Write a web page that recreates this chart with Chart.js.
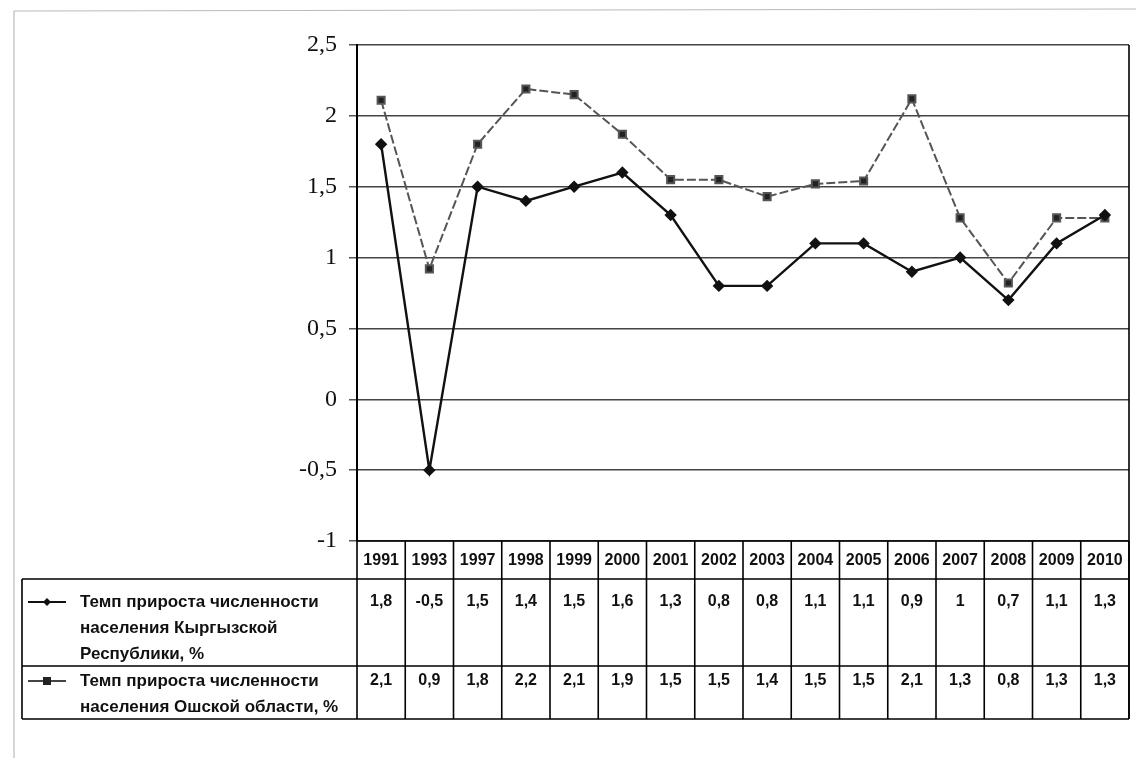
<!DOCTYPE html>
<html>
<head>
<meta charset="utf-8">
<script src="https://cdn.jsdelivr.net/npm/chart.js@4.4.1/dist/chart.umd.min.js"></script>
<style>
  html, body { margin: 0; padding: 0; background: #fff; }
  #wrap { width: 1136px; height: 758px; position: relative; }
</style>
</head>
<body>
<div id="wrap"><canvas id="c" width="1136" height="758"></canvas></div>
<script>
// ---- data ----
const years = ['1991','1993','1997','1998','1999','2000','2001','2002','2003','2004','2005','2006','2007','2008','2009','2010'];
const kyrgyzValues = [1.8, -0.5, 1.5, 1.4, 1.5, 1.6, 1.3, 0.8, 0.8, 1.1, 1.1, 0.9, 1.0, 0.7, 1.1, 1.3];
const oshValues = [2.11, 0.92, 1.8, 2.19, 2.15, 1.87, 1.55, 1.55, 1.43, 1.52, 1.54, 2.12, 1.28, 0.82, 1.28, 1.28];
const kyrgyzTable = ['1,8','-0,5','1,5','1,4','1,5','1,6','1,3','0,8','0,8','1,1','1,1','0,9','1','0,7','1,1','1,3'];
const oshTable = ['2,1','0,9','1,8','2,2','2,1','1,9','1,5','1,5','1,4','1,5','1,5','2,1','1,3','0,8','1,3','1,3'];
const kyrgyzLabel = ['Темп прироста численности', 'населения Кыргызской', 'Республики, %'];
const oshLabel = ['Темп прироста численности', 'населения Ошской области, %'];
const yMin = -1, yMax = 2.5, yStep = 0.5;

// table geometry (styles)
const T = { labelLeft: 22, headTop: 541, row1Top: 579, row2Top: 666, bottom: 719,
            row1Text: 602, row2Text: 681, lineGap: 26 };

const tablePlugin = {
  id: 'table',
  beforeDraw(chart) {
    const ctx = chart.ctx;
    ctx.save();
    ctx.fillStyle = '#fff';
    ctx.fillRect(0, 0, chart.width, chart.height);
    ctx.strokeStyle = '#bbb';
    ctx.lineWidth = 1.2;
    ctx.beginPath();
    ctx.moveTo(14, 758); ctx.lineTo(14, 11); ctx.lineTo(1136, 9);
    ctx.stroke();
    ctx.restore();
  },
  afterDraw(chart) {
    const ctx = chart.ctx;
    const x = chart.scales.x, ca = chart.chartArea;
    const n = years.length;
    const colW = (ca.right - ca.left) / n;
    ctx.save();
    ctx.strokeStyle = '#000';
    ctx.lineWidth = 1.6;
    ctx.beginPath();
    ctx.moveTo(ca.right, ca.top); ctx.lineTo(ca.right, T.bottom);
    ctx.stroke();
    ctx.beginPath();
    ctx.moveTo(ca.left, T.headTop); ctx.lineTo(ca.right, T.headTop);
    ctx.moveTo(T.labelLeft, T.row1Top); ctx.lineTo(ca.right, T.row1Top);
    ctx.moveTo(T.labelLeft, T.row2Top); ctx.lineTo(ca.right, T.row2Top);
    ctx.moveTo(T.labelLeft, T.bottom); ctx.lineTo(ca.right, T.bottom);
    ctx.moveTo(T.labelLeft, T.row1Top); ctx.lineTo(T.labelLeft, T.bottom);
    for (let i = 0; i <= n; i++) {
      const xx = ca.left + i * colW;
      ctx.moveTo(xx, T.headTop); ctx.lineTo(xx, T.bottom);
    }
    ctx.stroke();

    ctx.fillStyle = '#111';
    ctx.textAlign = 'center';
    ctx.textBaseline = 'middle';
    ctx.font = 'bold 16px "Liberation Sans", Arial, sans-serif';
    years.forEach((yr, i) => {
      const cx = x.getPixelForValue(i);
      ctx.fillText(yr, cx, (T.headTop + T.row1Top) / 2 + 1);
      ctx.fillText(kyrgyzTable[i], cx, T.row1Text);
      ctx.fillText(oshTable[i], cx, T.row2Text);
    });

    ctx.textAlign = 'left';
    ctx.font = 'bold 17px "Liberation Sans", Arial, sans-serif';
    kyrgyzLabel.forEach((t, k) => ctx.fillText(t, 80, T.row1Text + k * T.lineGap));
    oshLabel.forEach((t, k) => ctx.fillText(t, 80, T.row2Text + k * T.lineGap));

    // legend keys
    ctx.lineWidth = 2;
    ctx.strokeStyle = '#111';
    ctx.beginPath();
    ctx.moveTo(28, T.row1Text); ctx.lineTo(66, T.row1Text);
    ctx.stroke();
    ctx.fillStyle = '#111';
    const d = T.row1Text;
    ctx.beginPath();
    ctx.moveTo(47, d - 4); ctx.lineTo(51, d); ctx.lineTo(47, d + 4); ctx.lineTo(43, d); ctx.closePath();
    ctx.fill();
    ctx.strokeStyle = '#444';
    ctx.beginPath();
    ctx.moveTo(28, T.row2Text); ctx.lineTo(66, T.row2Text);
    ctx.stroke();
    ctx.fillStyle = '#222';
    ctx.fillRect(43, T.row2Text - 4, 8, 8);
    ctx.restore();
  }
};

new Chart(document.getElementById('c'), {
  type: 'line',
  data: {
    labels: years,
    datasets: [
      {
        label: kyrgyzLabel.join(' '),
        data: kyrgyzValues,
        borderColor: '#111',
        backgroundColor: '#111',
        borderWidth: 2.4,
        pointStyle: 'rectRot',
        pointRadius: 4.5,
        pointHoverRadius: 4.5,
        tension: 0
      },
      {
        label: oshLabel.join(' '),
        data: oshValues,
        borderColor: '#555',
        backgroundColor: '#222',
        borderWidth: 2,
        borderDash: [9, 3],
        pointStyle: 'rect',
        pointRadius: 5,
        pointHoverRadius: 5,
        tension: 0
      }
    ]
  },
  options: {
    responsive: false,
    animation: false,
    devicePixelRatio: 1,
    layout: { padding: { left: 0, top: 45, right: 5, bottom: 217 } },
    plugins: { legend: { display: false }, tooltip: { enabled: false }, title: { display: false } },
    scales: {
      x: { type: 'category', offset: true, display: false },
      y: {
        min: yMin, max: yMax,
        afterFit(scale) { scale.width = 357; },
        ticks: {
          stepSize: yStep,
          padding: 12,
          color: '#111',
          font: { family: '"Liberation Serif", "Times New Roman", serif', size: 24 },
          callback: v => String(v).replace('.', ',')
        },
        grid: {
          color: '#444',
          lineWidth: 1.5,
          drawTicks: true,
          tickLength: 8,
          tickColor: '#555'
        },
        border: { display: true, color: '#000', width: 2, dash: [] }
      }
    }
  },
  plugins: [tablePlugin]
});
</script>
</body>
</html>
